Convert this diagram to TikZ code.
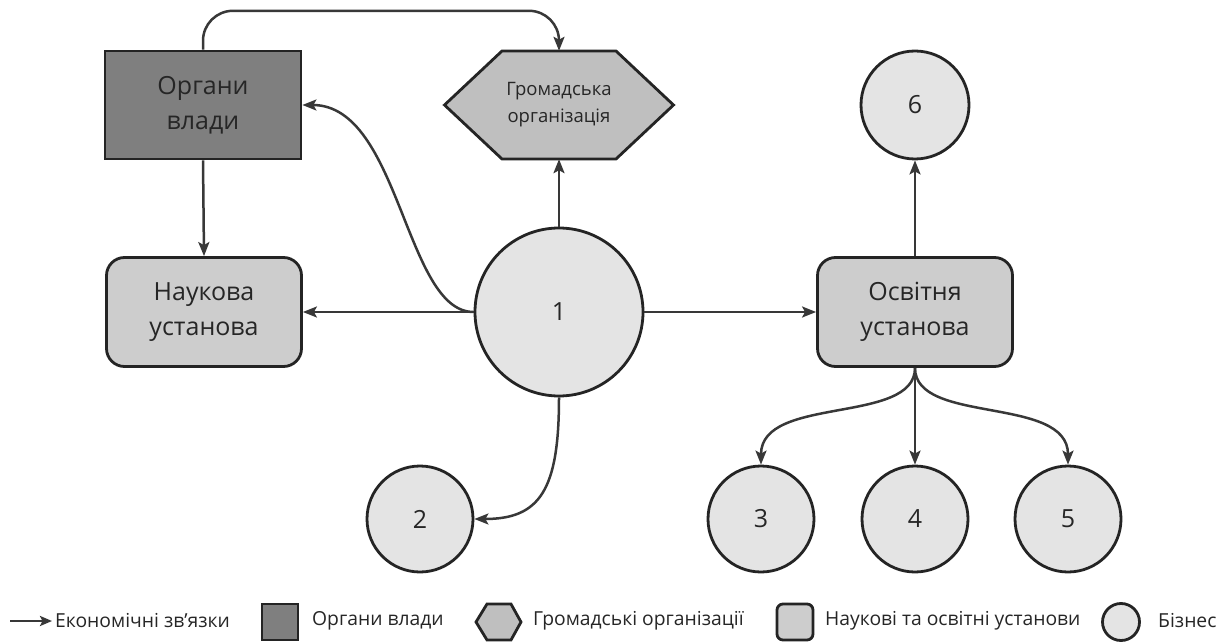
\documentclass[tikz,border=0pt]{standalone}
\usepackage{fontspec}
\setmainfont{Open Sans}
\usetikzlibrary{arrows.meta,calc}
\definecolor{lineC}{HTML}{383838}
\definecolor{edgeC}{HTML}{242424}
\definecolor{darkF}{HTML}{7F7F7F}
\definecolor{hexF}{HTML}{BFBFBF}
\definecolor{instF}{HTML}{CDCDCD}
\definecolor{bizF}{HTML}{E4E4E4}
\definecolor{txtC}{HTML}{262626}
\begin{document}
\begin{tikzpicture}[x=1pt,y=-1pt,
  shapebase/.style={draw=edgeC, line width=2.8pt, text=txtC, inner sep=0pt, align=center},
  bigfont/.style={font=\fontsize{25}{35}\selectfont},
  authority/.style={shapebase, bigfont, rectangle, fill=darkF, minimum width=196pt, minimum height=108pt},
  institute/.style={shapebase, bigfont, rectangle, rounded corners=18pt, fill=instF, minimum width=195pt, minimum height=109pt},
  hexshape/.style={draw=edgeC, line width=2.8pt, fill=hexF, line join=miter},
  hexlabel/.style={text=txtC, inner sep=0pt, align=center, minimum width=229pt, minimum height=108pt, font=\fontsize{18.5}{27}\selectfont},
  biz/.style={shapebase, bigfont, circle, fill=bizF},
  conn/.style={draw=lineC, line width=2.5pt, -{Stealth[length=14pt,width=11pt,inset=3pt]}},
  legtext/.style={anchor=west, inner sep=0pt, text=txtC, font=\fontsize{19.3}{23}\selectfont},
]
\fill[white] (0,0) rectangle (1231,644);
\useasboundingbox (0,0) rectangle (1231,644);

% hexagon (public organisation)
\coordinate (hc) at (559,105);
\draw[hexshape] ($(hc)+(-114.5,0)$) -- ($(hc)+(-57,-54)$) -- ($(hc)+(57,-54)$)
  -- ($(hc)+(114.5,0)$) -- ($(hc)+(57,54)$) -- ($(hc)+(-57,54)$) -- cycle;
\node[hexlabel] (h) at (hc) {Громадська\\організація};

% nodes
\node[authority] (o) at (203,105) {Органи\\влади};
\node[institute] (n) at (204,312) {Наукова\\установа};
\node[institute] (e) at (915,312) {Освітня\\установа};
\node[biz, minimum size=168pt] (c1) at (559,312) {1};
\node[biz, minimum size=106pt] (c2) at (420,519) {2};
\node[biz, minimum size=106pt] (c3) at (761,519) {3};
\node[biz, minimum size=106pt] (c4) at (915,519) {4};
\node[biz, minimum size=106pt] (c5) at (1068,519) {5};
\node[biz, minimum size=108pt] (c6) at (915,105) {6};

% connectors
\draw[conn, rounded corners=30pt] (o.north) |- ([yshift=40pt]h.north) -- (h.north);
\draw[conn] (o.south) -- (n.north);
\draw[conn] (c1.north) -- (h.south);
\draw[conn] (c1.west) -- (n.east);
\draw[conn] (c1.west) .. controls (405,312) and (400,105) .. (o.east);
\draw[conn] (c1.east) -- (e.west);
\draw[conn] (e.north) -- (c6.south);
\draw[conn] (c1.south) .. controls (559,490) and (540,519) .. (c2.east);
\draw[conn] (e.south) -- (c4.north);
\draw[conn] (e.south) .. controls (915,425) and (761,395) .. (c3.north);
\draw[conn] (e.south) .. controls (915,425) and (1068,395) .. (c5.north);

% legend
\coordinate (la1) at (10,621);
\coordinate (la2) at (52,621);
\draw[conn, -{Stealth[length=12pt,width=10pt,inset=2.5pt]}] (la1) -- (la2);
\node[legtext] (lt1) at (55,621) {Економічні зв’язки};
\node[shapebase, rectangle, fill=darkF, minimum size=36pt] (lg2) at (280,622) {};
\node[legtext] (lt2) at (312,621) {Органи влади};
\draw[hexshape] (476,622) -- (487,604) -- (511,604) -- (521,622) -- (511,640) -- (487,640) -- cycle;
\node[legtext] (lt3) at (533,621) {Громадські організації};
\node[shapebase, rectangle, rounded corners=6pt, fill=instF, minimum size=36pt] (lg4) at (795,622) {};
\node[legtext] (lt4) at (825,621) {Наукові та освітні установи};
\node[shapebase, circle, fill=bizF, minimum size=37pt] (lg5) at (1121,622) {};
\node[legtext] (lt5) at (1158,621) {Бізнес};
\end{tikzpicture}
\end{document}
